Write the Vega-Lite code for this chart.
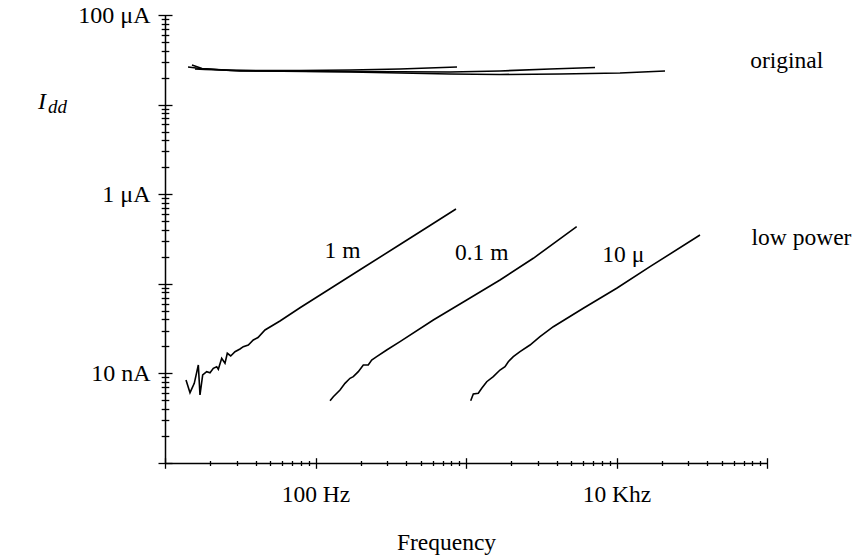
{
  "$schema": "https://vega.github.io/schema/vega-lite/v6.json",
  "width": 602,
  "height": 448,
  "autosize": {"type": "none"},
  "padding": {"left": 165, "top": 15, "right": 90, "bottom": 96},
  "background": "white",
  "config": {"view": {"stroke": null}},
  "datasets": {
    "curves": [
      {"s": "lp1", "f": 13.79, "I": 8.44e-9}, {"s": "lp1", "f": 14.66, "I": 6.09e-9}, {"s": "lp1", "f": 15.65, "I": 7.75e-9},
      {"s": "lp1", "f": 16.65, "I": 1.241e-8}, {"s": "lp1", "f": 17.08, "I": 5.74e-9}, {"s": "lp1", "f": 17.80, "I": 9.60e-9},
      {"s": "lp1", "f": 18.93, "I": 1.045e-8}, {"s": "lp1", "f": 19.91, "I": 1.018e-8}, {"s": "lp1", "f": 20.94, "I": 1.140e-8},
      {"s": "lp1", "f": 22.06, "I": 1.188e-8}, {"s": "lp1", "f": 22.61, "I": 1.111e-8}, {"s": "lp1", "f": 23.81, "I": 1.474e-8},
      {"s": "lp1", "f": 25.04, "I": 1.296e-8}, {"s": "lp1", "f": 25.94, "I": 1.677e-8}, {"s": "lp1", "f": 27.33, "I": 1.564e-8},
      {"s": "lp1", "f": 29.18, "I": 1.747e-8}, {"s": "lp1", "f": 31.50, "I": 1.873e-8}, {"s": "lp1", "f": 33.13, "I": 1.986e-8},
      {"s": "lp1", "f": 35.77, "I": 2.075e-8}, {"s": "lp1", "f": 38.61, "I": 2.36e-8}, {"s": "lp1", "f": 41.49, "I": 2.516e-8},
      {"s": "lp1", "f": 46.18, "I": 3.051e-8}, {"s": "lp1", "f": 58.08, "I": 3.845e-8}, {"s": "lp1", "f": 78.89, "I": 5.40e-8},
      {"s": "lp1", "f": 124.9, "I": 8.80e-8}, {"s": "lp1", "f": 197.6, "I": 1.433e-7}, {"s": "lp1", "f": 364.3, "I": 2.746e-7},
      {"s": "lp1", "f": 576.6, "I": 4.474e-7}, {"s": "lp1", "f": 857.9, "I": 6.84e-7},

      {"s": "lp2", "f": 124.9, "I": 4.958e-9}, {"s": "lp2", "f": 131.3, "I": 5.495e-9}, {"s": "lp2", "f": 145.5, "I": 6.53e-9},
      {"s": "lp2", "f": 157.0, "I": 7.75e-9}, {"s": "lp2", "f": 169.5, "I": 8.815e-9}, {"s": "lp2", "f": 178.3, "I": 9.19e-9},
      {"s": "lp2", "f": 192.5, "I": 1.045e-8}, {"s": "lp2", "f": 207.8, "I": 1.241e-8}, {"s": "lp2", "f": 224.2, "I": 1.241e-8},
      {"s": "lp2", "f": 236.2, "I": 1.411e-8}, {"s": "lp2", "f": 255.0, "I": 1.536e-8}, {"s": "lp2", "f": 297.2, "I": 1.825e-8},
      {"s": "lp2", "f": 364.3, "I": 2.259e-8}, {"s": "lp2", "f": 606.3, "I": 3.945e-8}, {"s": "lp2", "f": 1010.7, "I": 6.595e-8},
      {"s": "lp2", "f": 1682, "I": 1.103e-7}, {"s": "lp2", "f": 2801, "I": 1.926e-7}, {"s": "lp2", "f": 5438, "I": 4.339e-7},

      {"s": "lp3", "f": 1074.6, "I": 4.958e-9}, {"s": "lp3", "f": 1118.3, "I": 5.890e-9}, {"s": "lp3", "f": 1207, "I": 5.997e-9},
      {"s": "lp3", "f": 1272, "I": 6.82e-9}, {"s": "lp3", "f": 1373, "I": 8.08e-9}, {"s": "lp3", "f": 1518, "I": 9.19e-9},
      {"s": "lp3", "f": 1682, "I": 1.091e-8}, {"s": "lp3", "f": 1816, "I": 1.188e-8}, {"s": "lp3", "f": 1910, "I": 1.351e-8},
      {"s": "lp3", "f": 2062, "I": 1.536e-8}, {"s": "lp3", "f": 2285, "I": 1.747e-8}, {"s": "lp3", "f": 2662, "I": 2.075e-8},
      {"s": "lp3", "f": 3102, "I": 2.568e-8}, {"s": "lp3", "f": 3803, "I": 3.320e-8}, {"s": "lp3", "f": 6018, "I": 5.33e-8},
      {"s": "lp3", "f": 10030, "I": 8.91e-8}, {"s": "lp3", "f": 16690, "I": 1.552e-7}, {"s": "lp3", "f": 35870, "I": 3.505e-7},

      {"s": "orA", "f": 14.22, "I": 2.629e-5}, {"s": "orA", "f": 17.08, "I": 2.529e-5}, {"s": "orA", "f": 27.04, "I": 2.403e-5},
      {"s": "orA", "f": 78.89, "I": 2.403e-5}, {"s": "orA", "f": 169.5, "I": 2.434e-5}, {"s": "orA", "f": 364.3, "I": 2.497e-5},
      {"s": "orA", "f": 871.3, "I": 2.629e-5},

      {"s": "orB", "f": 15.11, "I": 2.768e-5}, {"s": "orB", "f": 17.61, "I": 2.529e-5}, {"s": "orB", "f": 31.50, "I": 2.372e-5},
      {"s": "orB", "f": 169.5, "I": 2.341e-5}, {"s": "orB", "f": 783.0, "I": 2.312e-5}, {"s": "orB", "f": 1682, "I": 2.372e-5},
      {"s": "orB", "f": 3614, "I": 2.497e-5}, {"s": "orB", "f": 7195, "I": 2.595e-5},

      {"s": "orC", "f": 15.82, "I": 2.497e-5}, {"s": "orC", "f": 18.44, "I": 2.465e-5}, {"s": "orC", "f": 42.78, "I": 2.372e-5},
      {"s": "orC", "f": 169.5, "I": 2.312e-5}, {"s": "orC", "f": 783.0, "I": 2.195e-5}, {"s": "orC", "f": 1682, "I": 2.167e-5},
      {"s": "orC", "f": 4212, "I": 2.195e-5}, {"s": "orC", "f": 10550, "I": 2.253e-5}, {"s": "orC", "f": 21010, "I": 2.372e-5}
    ],
    "curveLabels": [
      {"t": "1 m", "f": 151.1, "I": 1.916e-7},
      {"t": "0.1 m", "f": 1272, "I": 1.867e-7},
      {"t": "10 μ", "f": 11100, "I": 1.729e-7},
      {"t": "original", "f": 135200, "I": 2.543e-5},
      {"t": "low power", "f": 169500, "I": 2.711e-7}
    ],
    "symI": [{"t": "I", "f": 1.432, "I": 8.93e-6}],
    "symSub": [{"t": "dd", "f": 1.669, "I": 8.06e-6}]
  },
  "encoding": {
    "x": {
      "field": "f",
      "type": "quantitative",
      "scale": {"type": "log", "domain": [10, 100000], "nice": false},
      "axis": {
        "values": [10, 20, 30, 40, 50, 60, 70, 80, 90, 100, 200, 300, 400, 500, 600, 700, 800, 900, 1000, 2000, 3000, 4000, 5000, 6000, 7000, 8000, 9000, 10000, 20000, 30000, 40000, 50000, 60000, 70000, 80000, 90000, 100000],
        "labelExpr": "datum.value == 100 ? '100 Hz' : datum.value == 10000 ? '10 Khz' : ''",
        "labelOverlap": false,
        "labelFlush": false,
        "labelBound": false,
        "labelFont": "Liberation Serif",
        "labelFontSize": 23.5,
        "labelColor": "black",
        "labelBaseline": "top",
        "tickSize": 5.3,
        "labelPadding": 14,
        "grid": false,
        "domainColor": "black",
        "domainWidth": 1.5,
        "tickColor": "black",
        "tickWidth": 1.3,
        "title": "Frequency",
        "titleFont": "Liberation Serif",
        "titleFontSize": 23.5,
        "titleFontWeight": "normal",
        "titleColor": "black",
        "titleAnchor": "start",
        "titleX": 281,
        "titleY": 79,
        "titleAlign": "center",
        "titleBaseline": "middle",
        "encoding": {
          "ticks": {
            "y": {"value": {"expr": "abs(log(datum.value)/LN10-round(log(datum.value)/LN10))<0.001 ? -5.3 : -2.5"}},
            "y2": {"value": {"expr": "abs(log(datum.value)/LN10-round(log(datum.value)/LN10))<0.001 ? 5.3 : 2.5"}}
          }
        }
      }
    },
    "y": {
      "field": "I",
      "type": "quantitative",
      "scale": {"type": "log", "domain": [1e-9, 1e-4], "nice": false},
      "axis": {
        "values": [1e-9, 2e-9, 3e-9, 4e-9, 5e-9, 6e-9, 7e-9, 8e-9, 9e-9,
                   1e-8, 2e-8, 3e-8, 4e-8, 5e-8, 6e-8, 7e-8, 8e-8, 9e-8,
                   1e-7, 2e-7, 3e-7, 4e-7, 5e-7, 6e-7, 7e-7, 8e-7, 9e-7,
                   1e-6, 2e-6, 3e-6, 4e-6, 5e-6, 6e-6, 7e-6, 8e-6, 9e-6,
                   1e-5, 2e-5, 3e-5, 4e-5, 5e-5, 6e-5, 7e-5, 8e-5, 9e-5, 1e-4],
        "labelExpr": "abs(datum.value/1e-4-1)<1e-6 ? '100 μA' : abs(datum.value/1e-6-1)<1e-6 ? '1 μA' : abs(datum.value/1e-8-1)<1e-6 ? '10 nA' : ''",
        "labelOverlap": false,
        "labelFlush": false,
        "labelBound": false,
        "labelFont": "Liberation Serif",
        "labelFontSize": 24,
        "labelColor": "black",
        "labelBaseline": "middle",
        "tickSize": 7,
        "labelPadding": 8,
        "grid": false,
        "domainColor": "black",
        "domainWidth": 1.5,
        "tickColor": "black",
        "tickWidth": 1.3,
        "title": null,
        "encoding": {
          "ticks": {
            "x": {"value": {"expr": "abs(log(datum.value)/LN10-round(log(datum.value)/LN10))<0.001 ? 7 : 3.8"}},
            "x2": {"value": {"expr": "abs(log(datum.value)/LN10-round(log(datum.value)/LN10))<0.001 ? -7 : -3.8"}}
          }
        }
      }
    }
  },
  "layer": [
    {
      "data": {"name": "curves"},
      "mark": {"type": "line", "color": "black", "strokeWidth": 1.6, "clip": false},
      "encoding": {"detail": {"field": "s", "type": "nominal"}}
    },
    {
      "data": {"name": "curveLabels"},
      "mark": {"type": "text", "font": "Liberation Serif", "fontSize": 23.5, "align": "center", "baseline": "alphabetic", "color": "black"},
      "encoding": {"text": {"field": "t", "type": "nominal"}}
    },
    {
      "data": {"name": "symI"},
      "mark": {"type": "text", "font": "Liberation Serif", "fontSize": 24, "fontStyle": "italic", "align": "left", "baseline": "alphabetic", "color": "black"},
      "encoding": {"text": {"field": "t", "type": "nominal"}}
    },
    {
      "data": {"name": "symSub"},
      "mark": {"type": "text", "font": "Liberation Serif", "fontSize": 19, "fontStyle": "italic", "align": "left", "baseline": "alphabetic", "color": "black"},
      "encoding": {"text": {"field": "t", "type": "nominal"}}
    }
  ]
}
